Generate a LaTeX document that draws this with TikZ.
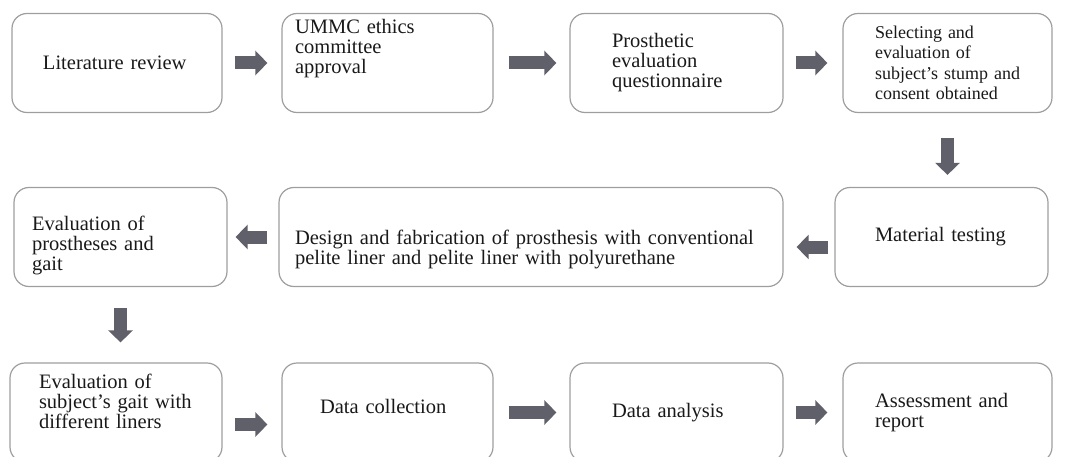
\documentclass[tikz,border=0pt]{standalone}
\usepackage{fontspec}
\setmainfont{Liberation Serif}
\usetikzlibrary{arrows.meta}
\definecolor{boxgray}{RGB}{158,158,158}
\definecolor{arrowgray}{RGB}{96,96,106}
\tikzset{
  stage/.style={draw=boxgray, line width=1.2pt, rounded corners=15pt,
    inner xsep=0pt, inner ysep=0pt, text width=#1, minimum width=#1,
    minimum height=99pt, align=left, text=black!90,
    font=\fontsize{20.5pt}{20pt}\selectfont},
  inset/.style={execute at begin node={\leftskip=#1\relax}},
  textlift/.style={execute at end node={\par\kern#1\relax}},
  flow/.style={line width=13pt, draw=arrowgray,
    -{Triangle[length=12pt,width=24pt]}, shorten <=13pt, shorten >=14pt}
}
\begin{document}
\begin{tikzpicture}[x=1pt, y=-1pt]
    \useasboundingbox (0,0) rectangle (1067,457);
    % first row
    \node[stage=210pt, inset=31pt] (A0_0) at (117, 63) {Literature review};
    \node[stage=211pt, inset=13pt, textlift=28pt] (A0_1) at (387.5, 63) {UMMC ethics\\committee\\approval};
    \node[stage=213pt, inset=42pt] (A0_2) at (676.5, 63) {Prosthetic\\evaluation\\questionnaire};
    \node[stage=209pt, inset=32pt, font=\fontsize{18pt}{20.5pt}\selectfont] (A0_3) at (947.5, 63) {Selecting and\\evaluation of\\subject's stump and\\consent obtained};
    % second row
    \node[stage=213pt, inset=18pt, textlift=-16pt] (A1_0) at (120.5, 237) {Evaluation of\\prostheses and\\gait};
    \node[stage=504pt, inset=16pt, textlift=-30pt] (A1_1) at (531, 237) {Design and fabrication of prosthesis with conventional\\pelite liner and pelite liner with polyurethane};
    \node[stage=213pt, inset=40pt] (A1_2) at (941.5, 237) {Material testing};
    % third row
    \node[stage=212pt, inset=29pt, textlift=22pt] (A2_0) at (116, 412.5) {Evaluation of\\subject's gait with\\different liners};
    \node[stage=211pt, inset=38pt, textlift=12pt] (A2_1) at (387.5, 412.5) {Data collection};
    \node[stage=213pt, inset=42pt] (A2_2) at (676.5, 412.5) {Data analysis};
    \node[stage=209pt, inset=32pt] (A2_3) at (947.5, 412.5) {Assessment and\\report};
    % arrows
    \path (A0_0.east) edge [flow, shorten <=12pt] (A0_1.west);
    \path (A0_1.east) edge [flow, shorten <=15pt, shorten >=13pt] (A0_2.west);
    \path (A0_2.east) edge [flow, shorten <=12pt, shorten >=15pt] (A0_3.west);
    \path (A0_3.south) edge [flow, shorten <=25pt, shorten >=12pt] (A0_3.south |- A1_2.north);
    \path ([yshift=-10pt]A1_2.west) edge [flow, shorten <=6pt, shorten >=13pt] ([yshift=-10pt]A1_1.east);
    \path (A1_1.west) edge [flow, shorten <=11pt, shorten >=8pt] (A1_0.east);
    \path (A1_0.south) edge [flow, shorten <=21pt, shorten >=20pt] (A1_0.south |- A2_0.north);
    \path ([yshift=-12pt]A2_0.east) edge [flow, shorten <=12pt] ([yshift=-12pt]A2_1.west);
    \path (A2_1.east) edge [flow, shorten <=15pt, shorten >=13pt] (A2_2.west);
    \path (A2_2.east) edge [flow, shorten <=12pt, shorten >=15pt] (A2_3.west);
\end{tikzpicture}
\end{document}
